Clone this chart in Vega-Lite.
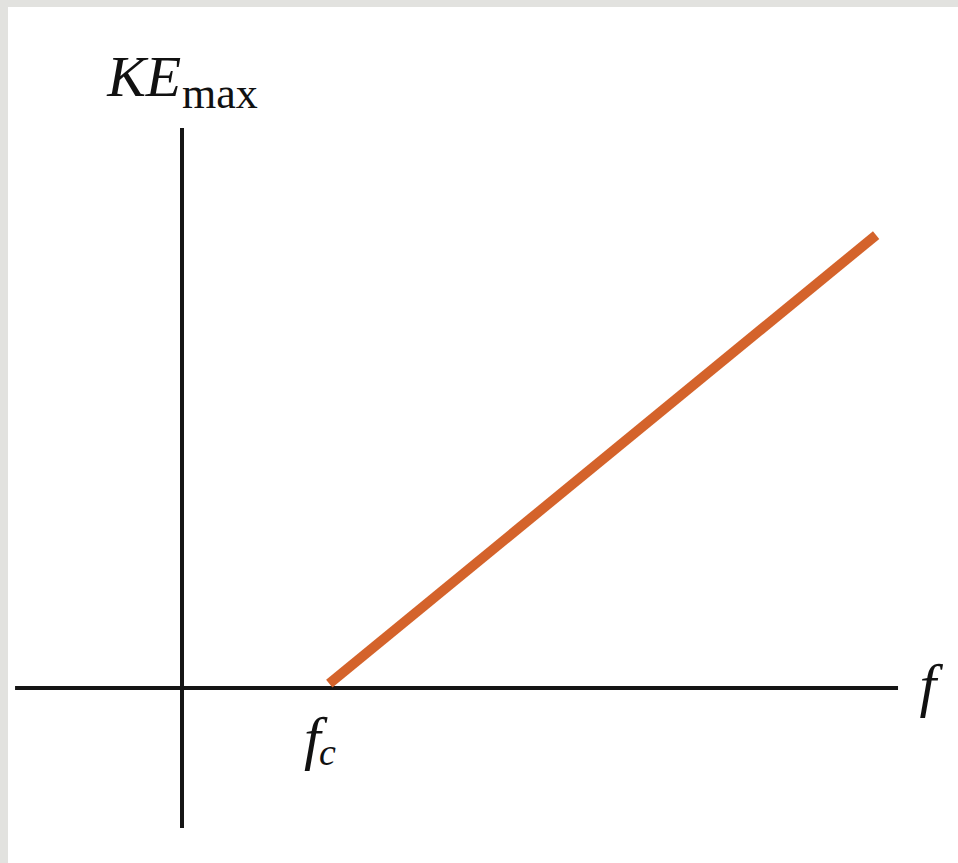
{
  "$schema": "https://vega.github.io/schema/vega-lite/v6.json",
  "width": 950,
  "height": 856,
  "autosize": {"type": "none"},
  "padding": {"left": 8, "top": 7, "right": 0, "bottom": 0},
  "background": "#e2e2df",
  "view": {"fill": "#ffffff", "stroke": null},
  "config": {"axis": {"disable": true}},
  "datasets": {
    "axes": [
      {"name": "f-axis", "x": -1.128, "x2": 4.838, "y": 0, "y2": 0},
      {"name": "KE-axis", "x": 0, "x2": 0, "y": -0.946, "y2": 3.784}
    ],
    "curve": [
      {"f": 0.995, "ke": 0.03},
      {"f": 4.69, "ke": 3.06}
    ],
    "italic": [
      {"text": "KE", "x": -0.005, "y": 4.0, "align": "right"},
      {"text": "f", "x": 5.04, "y": -0.115, "align": "center"},
      {"text": "f", "x": 0.88, "y": -0.47, "align": "center"}
    ],
    "subs": [
      {"text": "max", "x": 0.0, "y": 3.919},
      {"text": "c", "x": 0.925, "y": -0.52}
    ]
  },
  "layer": [
    {
      "data": {"name": "axes"},
      "mark": {"type": "rule", "color": "#151515", "strokeWidth": 4},
      "encoding": {
        "x": {"field": "x", "type": "quantitative", "scale": {"domain": [-1.1757, 5.2432], "nice": false, "zero": false}},
        "x2": {"field": "x2"},
        "y": {"field": "y", "type": "quantitative", "scale": {"domain": [-1.1824, 4.6014], "nice": false, "zero": false}},
        "y2": {"field": "y2"}
      }
    },
    {
      "data": {"name": "curve"},
      "mark": {"type": "line", "color": "#d4632b", "strokeWidth": 10, "strokeCap": "butt"},
      "encoding": {
        "x": {"field": "f", "type": "quantitative"},
        "y": {"field": "ke", "type": "quantitative"}
      }
    },
    {
      "data": {"name": "italic"},
      "transform": [{"filter": "datum.align == 'right'"}],
      "mark": {"type": "text", "font": "Liberation Serif", "fontStyle": "italic", "baseline": "alphabetic", "align": "right", "fontSize": 58, "color": "#111111"},
      "encoding": {
        "x": {"field": "x", "type": "quantitative"},
        "y": {"field": "y", "type": "quantitative"},
        "text": {"field": "text"}
      }
    },
    {
      "data": {"name": "italic"},
      "transform": [{"filter": "datum.align == 'center'"}],
      "mark": {"type": "text", "font": "Liberation Serif", "fontStyle": "italic", "baseline": "alphabetic", "align": "center", "fontSize": 60, "color": "#111111"},
      "encoding": {
        "x": {"field": "x", "type": "quantitative"},
        "y": {"field": "y", "type": "quantitative"},
        "text": {"field": "text"}
      }
    },
    {
      "data": {"name": "subs"},
      "transform": [{"filter": "datum.text == 'max'"}],
      "mark": {"type": "text", "font": "Liberation Serif", "baseline": "alphabetic", "align": "left", "fontSize": 44, "color": "#111111"},
      "encoding": {
        "x": {"field": "x", "type": "quantitative"},
        "y": {"field": "y", "type": "quantitative"},
        "text": {"field": "text"}
      }
    },
    {
      "data": {"name": "subs"},
      "transform": [{"filter": "datum.text == 'c'"}],
      "mark": {"type": "text", "font": "Liberation Serif", "fontStyle": "italic", "baseline": "alphabetic", "align": "left", "fontSize": 38, "color": "#111111"},
      "encoding": {
        "x": {"field": "x", "type": "quantitative"},
        "y": {"field": "y", "type": "quantitative"},
        "text": {"field": "text"}
      }
    }
  ]
}
